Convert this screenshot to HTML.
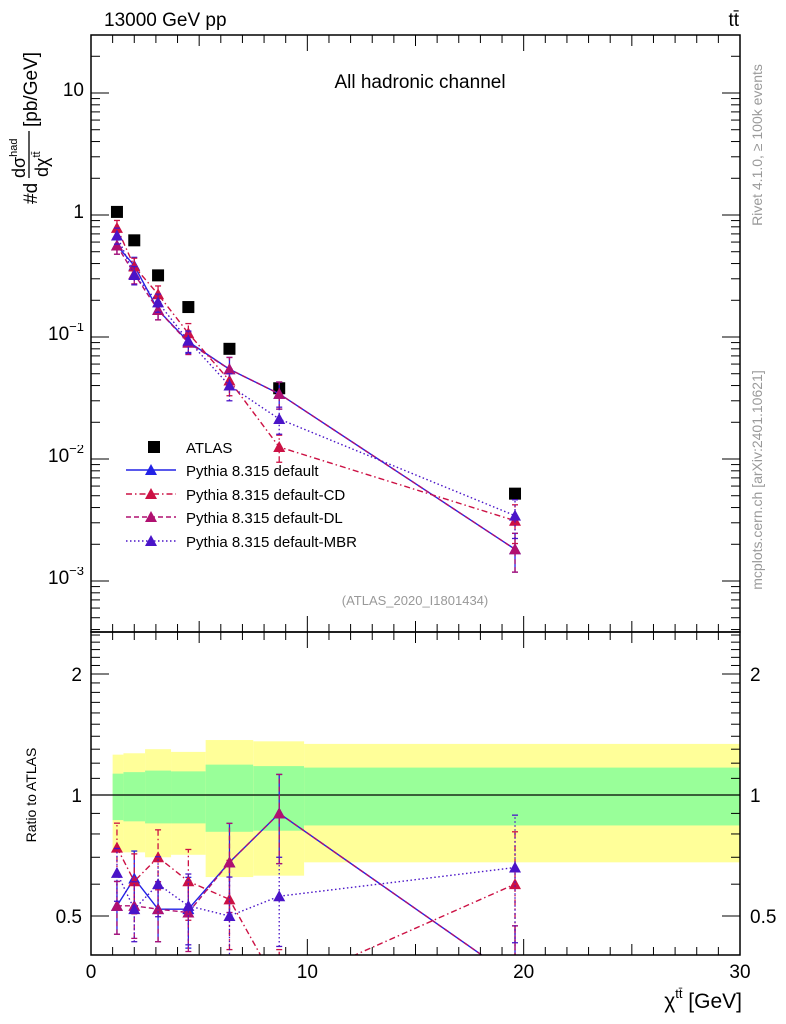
<!DOCTYPE html>
<html><head><meta charset="utf-8"><style>
body{margin:0;background:#fff;}
svg{display:block;font-family:"Liberation Sans",sans-serif;}
</style></head><body>
<svg id="c" width="786" height="1024" viewBox="0 0 786 1024">
<defs>
<clipPath id="cm"><rect x="91" y="35" width="649" height="597"/></clipPath>
<clipPath id="cr"><rect x="91" y="632" width="649" height="323"/></clipPath>
</defs>
<g id="bands" clip-path="url(#cr)"></g>
<g id="mainG" clip-path="url(#cm)"></g>
<g id="ratioG" clip-path="url(#cr)"></g>
<g id="axes"></g>
<text x="104" y="26" font-size="19">13000 GeV pp</text>
<text x="739" y="26" font-size="19" text-anchor="end">tt̄</text>
<text x="420" y="88" font-size="19" text-anchor="middle">All hadronic channel</text>
<text x="415" y="605" font-size="13" fill="#999" text-anchor="middle">(ATLAS_2020_I1801434)</text>
<text transform="translate(762,145) rotate(-90)" font-size="14" fill="#999" text-anchor="middle">Rivet 4.1.0, ≥ 100k events</text>
<text transform="translate(762,480) rotate(-90)" font-size="14" fill="#999" text-anchor="middle">mcplots.cern.ch [arXiv:2401.10621]</text>
<g transform="rotate(-90)">
<text x="-204" y="37" font-size="19">#d</text>
<text x="-178" y="25" font-size="18">dσ<tspan font-size="11" dy="-8">had</tspan></text>
<line x1="-178" y1="29" x2="-131" y2="29" stroke="#000" stroke-width="1.3"/>
<text x="-177" y="48" font-size="18">dχ<tspan font-size="11" dy="-8">tt̄</tspan></text>
<text x="-127" y="37" font-size="19">[pb/GeV]</text>
</g>
<text transform="translate(36,795) rotate(-90)" font-size="14" text-anchor="middle">Ratio to ATLAS</text>
<text x="742" y="1008" font-size="21" text-anchor="end">χ<tspan font-size="13" dy="-10">tt̄</tspan><tspan dy="10"> [GeV]</tspan></text>
<g id="legend"></g>
</svg>
<script>
const xCenters=[1.2,2.0,3.1,4.5,6.4,8.7,19.6];
const atlas=[1.06,0.62,0.32,0.176,0.080,0.038,0.0052];
const binEdges=[1,1.5,2.5,3.7,5.3,7.5,9.85,30];
const yellowHi=[1.26,1.27,1.30,1.28,1.37,1.36,1.34];
const yellowLo=[0.72,0.72,0.70,0.71,0.625,0.63,0.68];
const greenHi=[1.13,1.14,1.15,1.145,1.19,1.18,1.17];
const greenLo=[0.866,0.86,0.85,0.85,0.81,0.815,0.84];
const ratioDefault=[0.53,0.62,0.52,0.52,0.68,0.90,0.35];
const ratioCD=[0.74,0.61,0.70,0.61,0.55,0.33,0.60];
const ratioDL=[0.53,0.53,0.52,0.51,0.68,0.90,0.35];
const ratioMBR=[0.64,0.52,0.60,0.53,0.50,0.56,0.66];
const relErr=[0.15,0.17,0.17,0.2,0.25,0.25,0.35];
const mainTicks=[10,1,0.1,0.01,0.001];
const mainTickLabels=["10","1","10<sup>−1</sup>","10<sup>−2</sup>","10<sup>−3</sup>"];
const ratioTicks=[2,1,0.5];
const xTicks=[0,10,20,30];
const series=[
 {name:"Pythia 8.315 default",r:ratioDefault,c:"#2222e6",d:""},
 {name:"Pythia 8.315 default-CD",r:ratioCD,c:"#cc1144",d:"6,3,1.5,3"},
 {name:"Pythia 8.315 default-DL",r:ratioDL,c:"#b01070",d:"5,3"},
 {name:"Pythia 8.315 default-MBR",r:ratioMBR,c:"#4a14c8",d:"1.5,2.5"}
];
const X=v=>91+v*(649/30);
const Ym=v=>215-122*Math.log10(v);
const Yr=v=>795-402*Math.log10(v);
const NS="http://www.w3.org/2000/svg";
function mk(t,a,p){const e=document.createElementNS(NS,t);for(const k in a)e.setAttribute(k,a[k]);p.appendChild(e);return e;}
const bands=document.getElementById('bands'),mainG=document.getElementById('mainG'),ratioG=document.getElementById('ratioG'),axes=document.getElementById('axes'),legend=document.getElementById('legend');
for(let i=0;i<yellowHi.length;i++){
 const x0=X(binEdges[i]),x1=X(binEdges[i+1]);
 let r=mk('rect',{x:x0,y:Yr(yellowHi[i]),width:x1-x0,height:Yr(yellowLo[i])-Yr(yellowHi[i]),fill:"#ffff99"},bands);
 
 
 r=mk('rect',{x:x0,y:Yr(greenHi[i]),width:x1-x0,height:Yr(greenLo[i])-Yr(greenHi[i]),fill:"#99ff99"},bands);
 
 
}
mk('line',{x1:91,x2:740,y1:Yr(1),y2:Yr(1),stroke:"#000","stroke-width":1.2},bands);
function tri(g,x,y,c){const p=mk('path',{d:`M${x-6},${y+5}L${x+6},${y+5}L${x},${y-6}Z`,fill:c},g);return p;}
function drawSeries(g,s,Y,useRatio){
 const vals=s.r.map((r,i)=>useRatio?r:r*atlas[i]);
 const pl=mk('polyline',{points:vals.map((v,i)=>X(xCenters[i])+","+Y(v)).join(" "),fill:"none",stroke:s.c,"stroke-width":1.4,"stroke-dasharray":s.d},g);
 
 
 vals.forEach((v,i)=>{
  const x=X(xCenters[i]),lo=v*(1-relErr[i]),hi=v*(1+relErr[i]);
  mk('line',{x1:x,x2:x,y1:Y(lo),y2:Y(hi),stroke:s.c,"stroke-width":1.3,"stroke-dasharray":s.d},g);
  mk('line',{x1:x-3,x2:x+3,y1:Y(lo),y2:Y(lo),stroke:s.c,"stroke-width":1.3},g);
  mk('line',{x1:x-3,x2:x+3,y1:Y(hi),y2:Y(hi),stroke:s.c,"stroke-width":1.3},g);
  const t=tri(g,x,Y(v),s.c);
  
  
 });
}
atlas.forEach((v,i)=>{
 const r=mk('rect',{x:X(xCenters[i])-6,y:Ym(v)-6,width:12,height:12,fill:"#000"},mainG);
 
 
});
series.forEach(s=>{drawSeries(mainG,s,Ym,false);drawSeries(ratioG,s,Yr,true);});
mk('rect',{x:91,y:35,width:649,height:597,fill:"none",stroke:"#000","stroke-width":1.5},axes);
mk('rect',{x:91,y:632,width:649,height:323,fill:"none",stroke:"#000","stroke-width":1.5},axes);
for(let v=0;v<=30;v++){
 const x=X(v),L=v%10==0?16:(v%5==0?11:8);
 [[35,1],[632,-1],[632,1],[955,-1]].forEach(([y,s])=>mk('line',{x1:x,x2:x,y1:y,y2:y+s*L,stroke:"#000"},axes));
}
xTicks.forEach(v=>{const t=mk('text',{x:X(v),y:978,"font-size":19,"text-anchor":"middle"},axes);t.textContent=v;
 
 });
for(let e=-4;e<=1;e++)for(let m=1;m<10;m++){const v=m*Math.pow(10,e),y=Ym(v);if(y<35||y>632)continue;const L=m==1?18:9;
 mk('line',{x1:91,x2:91+L,y1:y,y2:y,stroke:"#000"},axes);mk('line',{x1:740,x2:740-L,y1:y,y2:y,stroke:"#000"},axes);}
mainTicks.forEach((v,i)=>{const f=document.createElementNS(NS,'foreignObject');f.setAttribute('x',20);f.setAttribute('y',Ym(v)-14);f.setAttribute('width',64);f.setAttribute('height',30);
 f.innerHTML='<div xmlns="http://www.w3.org/1999/xhtml" style="text-align:right;font:19px Liberation Sans,sans-serif;line-height:24px">'+mainTickLabels[i].replace(/<sup>/,'<sup style="font-size:13px;vertical-align:9px;line-height:0">')+'</div>';
 
 
 axes.appendChild(f);});
for(let v=0.4;v<=2.5;v=Math.round((v+0.1)*10)/10){const y=Yr(v);if(y<632||y>955)continue;const L=(v==0.5||v==1||v==2)?18:9;
 mk('line',{x1:91,x2:91+L,y1:y,y2:y,stroke:"#000"},axes);mk('line',{x1:740,x2:740-L,y1:y,y2:y,stroke:"#000"},axes);}
ratioTicks.forEach(v=>{let t=mk('text',{x:82,y:Yr(v)+7,"font-size":19,"text-anchor":"end"},axes);t.textContent=v;
 
 
 t=mk('text',{x:750,y:Yr(v)+7,"font-size":19},axes);t.textContent=v;
 
 });
const ly=[447,470,494,517,541];
let r0=mk('rect',{x:148,y:ly[0]-6,width:12,height:12,fill:"#000"},legend);
let t0=mk('text',{x:186,y:ly[0]+6,"font-size":15},legend);t0.textContent="ATLAS";


series.forEach((s,i)=>{const y=ly[i+1];
 mk('line',{x1:126,x2:176,y1:y,y2:y,stroke:s.c,"stroke-width":1.4,"stroke-dasharray":s.d},legend);
 tri(legend,151,y,s.c);
 const t=mk('text',{x:186,y:y+6,"font-size":15},legend);t.textContent=s.name;
 
 });
</script>
</body></html>
